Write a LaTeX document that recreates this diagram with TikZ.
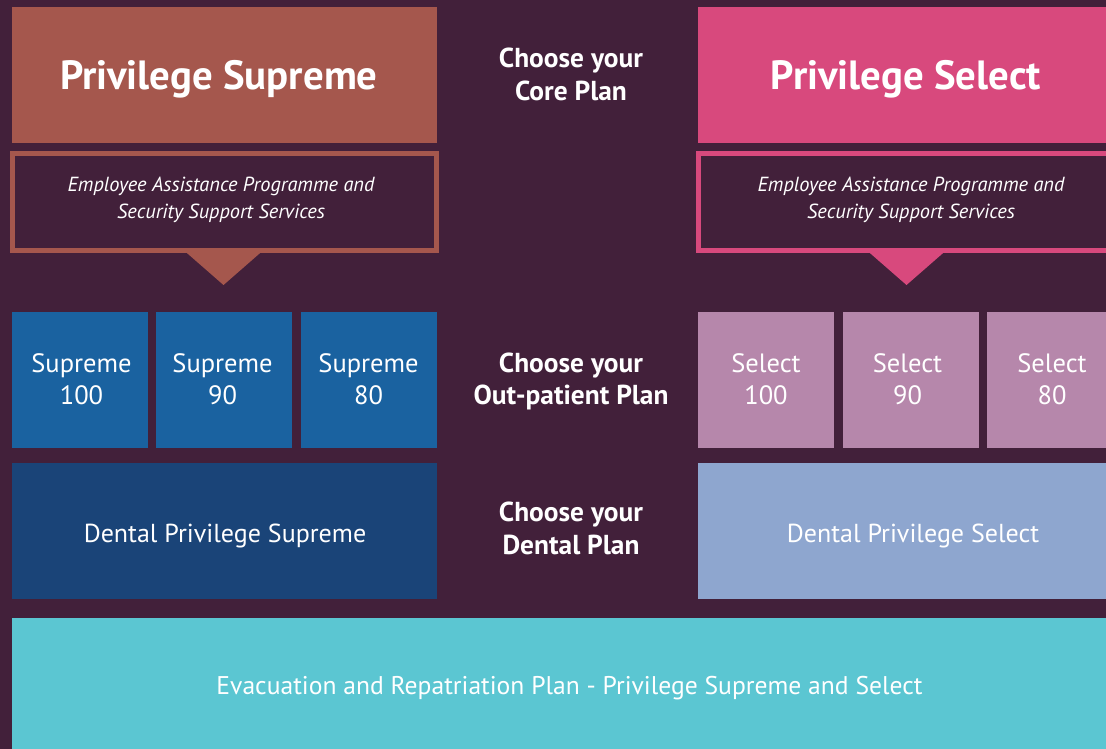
\documentclass[tikz,border=0pt]{standalone}
\usepackage{fontspec}
\setmainfont{PT Sans}
\definecolor{bgplum}{HTML}{42203A}
\definecolor{brick}{HTML}{A5574D}
\definecolor{rose}{HTML}{D8497D}
\definecolor{supblue}{HTML}{1A62A0}
\definecolor{supdark}{HTML}{1A4478}
\definecolor{selmauve}{HTML}{B687AB}
\definecolor{selblue}{HTML}{8EA6CF}
\definecolor{evcyan}{HTML}{5BC6D2}
\newcommand\twoline[2]{\begin{tabular}[t]{@{}c@{}}#1\\#2\end{tabular}}
\tikzset{
  box/.style={rectangle, inner sep=0pt, outer sep=0pt, anchor=north west, draw=none},
  framebox/.style={rectangle, inner sep=0pt, outer sep=0pt, anchor=north west, line width=5pt, fill=bgplum},
  txt/.style={text=white, inner sep=0pt, anchor=base},
  titlefont/.style={font=\fontsize{40.8}{46}\selectfont\bfseries},
  choosefont/.style={font=\fontsize{27.4}{33}\selectfont\bfseries},
  planfont/.style={font=\fontsize{26.5}{32}\selectfont},
  dentfont/.style={font=\fontsize{26}{32}\selectfont},
  italfont/.style={font=\fontsize{20.4}{26}\selectfont\itshape},
  evacfont/.style={font=\fontsize{25.6}{30}\selectfont},
}
\begin{document}
\begin{tikzpicture}[x=1pt,y=-1pt]
\clip (0,0) rectangle (1106,749);
\fill[bgplum] (0,0) rectangle (1106,749);
% core plans
\node[box, fill=brick, minimum width=425pt, minimum height=136pt] (ps) at (12,7) {};
\node[box, fill=rose, minimum width=425pt, minimum height=136pt] (psel) at (698,7) {};
\node[txt, titlefont] (pst) at (218.8,90) {Privilege Supreme};
\node[txt, titlefont] (pselt) at (906,90) {Privilege Select};
\node[txt, choosefont] (core) at (571,67.3) {\twoline{Choose your}{Core Plan}};
% assistance frames
\node[framebox, draw=brick, minimum width=424.5pt, minimum height=97pt] (eapl) at (12,153.5) {};
\node[framebox, draw=rose, minimum width=424.5pt, minimum height=97pt] (eapr) at (698.5,153.5) {};
\fill[brick] (184,250.5) -- (263,250.5) -- (223.5,285) -- cycle;
\fill[rose] (867,250.5) -- (946,250.5) -- (906.5,285) -- cycle;
\node[txt, italfont] (eaplt) at (221,192) {\twoline{Employee Assistance Programme and}{Security Support Services}};
\node[txt, italfont] (eaprt) at (911,192) {\twoline{Employee Assistance Programme and}{Security Support Services}};
% out-patient plans
\node[box, fill=supblue, minimum width=136pt, minimum height=136pt] (s100) at (12,312) {};
\node[box, fill=supblue, minimum width=136pt, minimum height=136pt] (s90) at (156,312) {};
\node[box, fill=supblue, minimum width=136pt, minimum height=136pt] (s80) at (301,312) {};
\node[box, fill=selmauve, minimum width=136pt, minimum height=136pt] (e100) at (698,312) {};
\node[box, fill=selmauve, minimum width=136pt, minimum height=136pt] (e90) at (843,312) {};
\node[box, fill=selmauve, minimum width=136pt, minimum height=136pt] (e80) at (987,312) {};
\node[txt, planfont] (s100t) at (81.5,372) {\twoline{Supreme}{100}};
\node[txt, planfont] (s90t) at (222.5,372) {\twoline{Supreme}{90}};
\node[txt, planfont] (s80t) at (368.5,372) {\twoline{Supreme}{80}};
\node[txt, planfont] (e100t) at (766,372) {\twoline{Select}{100}};
\node[txt, planfont] (e90t) at (907.5,372) {\twoline{Select}{90}};
\node[txt, planfont] (e80t) at (1052,372) {\twoline{Select}{80}};
\node[txt, font=\fontsize{27.4}{32}\selectfont\bfseries] (outp) at (571,372.5) {\twoline{Choose your}{Out-patient Plan}};
% dental plans
\node[box, fill=supdark, minimum width=425pt, minimum height=136pt] (ds) at (12,463) {};
\node[box, fill=selblue, minimum width=425pt, minimum height=136pt] (dsel) at (698,463) {};
\node[txt, dentfont] (dst) at (225,542) {Dental Privilege Supreme};
\node[txt, dentfont] (dselt) at (913,542) {Dental Privilege Select};
\node[txt, choosefont] (dent) at (571,521.5) {\twoline{Choose your}{Dental Plan}};
% evacuation
\node[box, fill=evcyan, minimum width=1110pt, minimum height=140pt] (ev) at (12,618) {};
\node[txt, evacfont] (evt) at (569.5,694) {Evacuation and Repatriation Plan - Privilege Supreme and Select};
\end{tikzpicture}
\end{document}
